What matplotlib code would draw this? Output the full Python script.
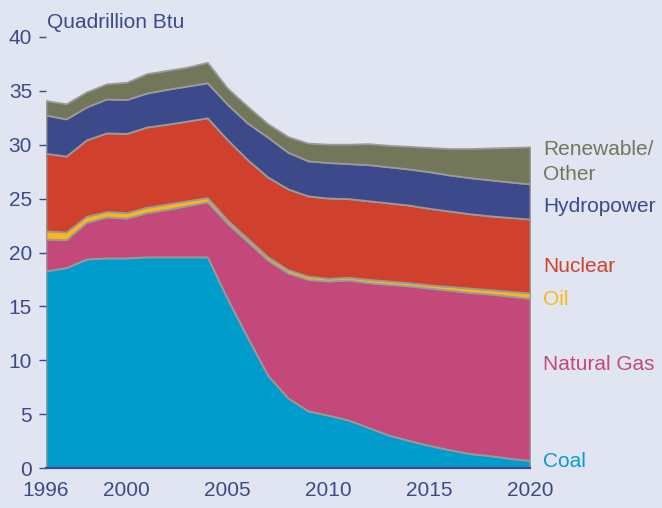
import matplotlib
matplotlib.use("Agg")
import matplotlib.pyplot as plt

years = list(range(1996, 2021))
coal = [18.3, 18.6, 19.4, 19.5, 19.5, 19.6, 19.6, 19.6, 19.6, 15.7, 12.1, 8.6, 6.5,
        5.3, 4.9, 4.45, 3.75, 3.05, 2.55, 2.1, 1.7, 1.35, 1.15, 0.9, 0.7]
natural_gas = [2.95, 2.6, 3.4, 3.8, 3.7, 4.1, 4.4, 4.75, 5.1, 7.0, 8.9, 10.7, 11.6,
               12.2, 12.45, 13.0, 13.45, 14.0, 14.35, 14.6, 14.8, 14.95, 15.0, 15.05, 15.05]
oil = [0.75, 0.7, 0.55, 0.5, 0.5, 0.5, 0.5, 0.45, 0.4, 0.3, 0.3, 0.3, 0.3,
       0.3, 0.25, 0.25, 0.3, 0.3, 0.3, 0.3, 0.35, 0.4, 0.4, 0.45, 0.5]
nuclear = [7.2, 7.05, 7.1, 7.3, 7.35, 7.45, 7.4, 7.4, 7.4, 7.45, 7.3, 7.4, 7.5,
           7.45, 7.45, 7.3, 7.3, 7.25, 7.2, 7.1, 7.0, 6.9, 6.85, 6.85, 6.85]
hydropower = [3.55, 3.45, 3.05, 3.15, 3.15, 3.15, 3.25, 3.25, 3.25, 3.3, 3.4, 3.7, 3.4,
              3.25, 3.3, 3.25, 3.35, 3.35, 3.35, 3.4, 3.35, 3.35, 3.35, 3.3, 3.27]
renewable_other = [1.35, 1.4, 1.4, 1.4, 1.6, 1.8, 1.75, 1.75, 1.9, 1.5, 1.55, 1.25, 1.45,
                   1.65, 1.7, 1.8, 1.95, 2.0, 2.1, 2.25, 2.45, 2.7, 2.95, 3.2, 3.43]

series_labels = ["Coal", "Natural Gas", "Oil", "Nuclear", "Hydropower", "Renewable/\nOther"]
fill_colors = ["#009dcc", "#c4497b", "#fcb715", "#d0412d", "#3c4a8c", "#73775a"]
text_colors = ["#0a9ccc", "#c4497b", "#fcb715", "#d0412d", "#3c4a8c", "#73775a"]
x_ticks = [1996, 2000, 2005, 2010, 2015, 2020]
y_ticks = [0, 5, 10, 15, 20, 25, 30, 35, 40]

bg = "#e1e5f2"
dark = "#3c4a8c"

plt.rcParams['font.family'] = ['Liberation Sans', 'DejaVu Sans']

fig = plt.figure(figsize=(6.62, 5.08), dpi=100, facecolor=bg)
ax = fig.add_axes([46/662, 40/508, 484/662, 431/508])
ax.set_facecolor(bg)

ax.stackplot(years, coal, natural_gas, oil, nuclear, hydropower, renewable_other,
             colors=fill_colors, edgecolor="#9a9a9a", linewidth=1.3)

ax.set_xlim(1996, 2020)
ax.set_ylim(0, 40)
ax.set_xticks(x_ticks)
ax.set_yticks(y_ticks)
for s in ["top", "right", "left"]:
    ax.spines[s].set_visible(False)
ax.spines["bottom"].set_color(dark)
ax.spines["bottom"].set_linewidth(1.6)
ax.spines["bottom"].set_zorder(5)
ax.tick_params(axis="x", length=0, pad=9, labelsize=15, labelcolor=dark)
ax.tick_params(axis="y", length=5, width=1, color=dark, pad=5, labelsize=15, labelcolor=dark)

fig.text(47/662, (508-28)/508, "Quadrillion Btu", fontsize=15, color=dark, ha="left", va="baseline")

# right-hand labels (baselines in data units)
label_pos = {
    "Renewable/\nOther": [29.04, 26.72],
    "Hydropower": [23.75],
    "Nuclear": [18.18],
    "Oil": [15.12],
    "Natural Gas": [9.09],
    "Coal": [0.09],
}
for lab, col in zip(series_labels, text_colors):
    lines = lab.split("\n")
    for line, yv in zip(lines, label_pos[lab]):
        ax.text(2020.645, yv, line, fontsize=15, color=col, ha="left", va="baseline", clip_on=False)

fig.savefig("out.png", dpi=100, facecolor=bg)
